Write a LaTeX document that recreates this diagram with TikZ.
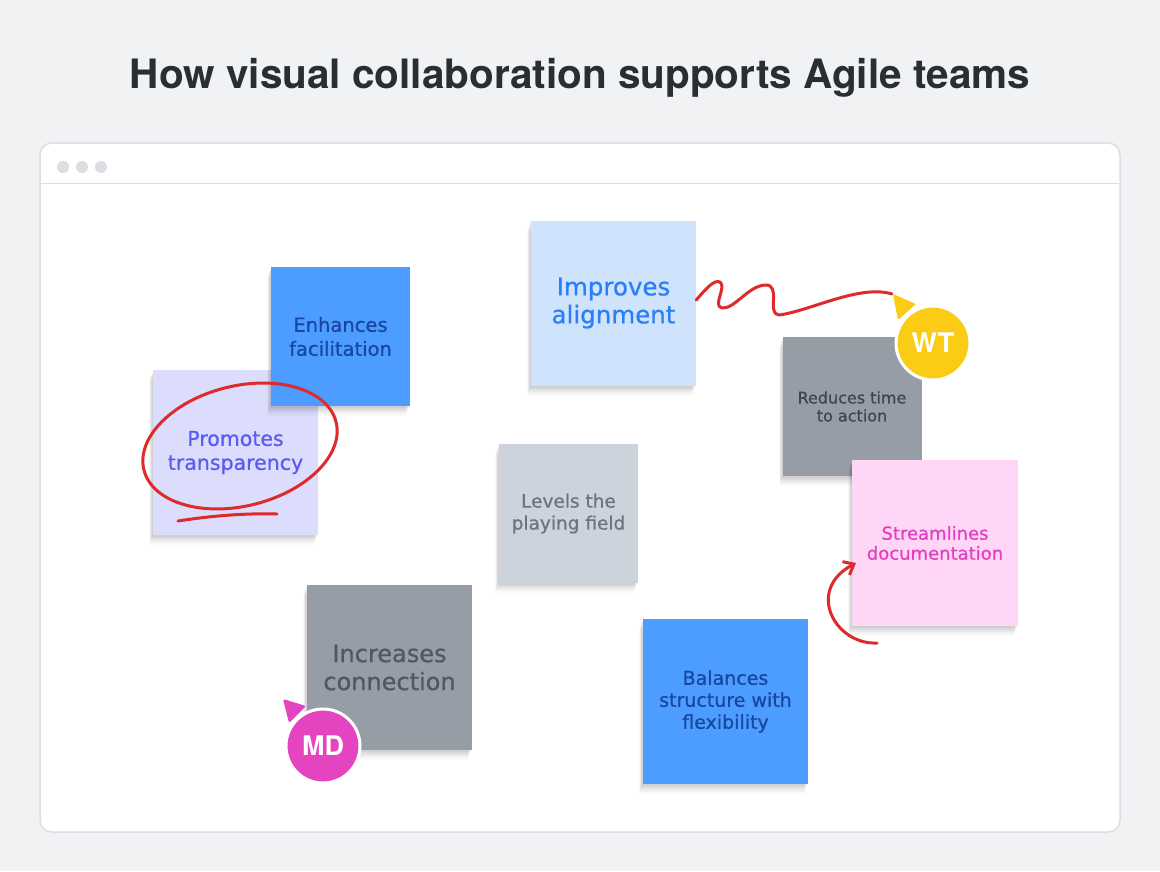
\documentclass[tikz,border=0pt]{standalone}
\usepackage{fontspec}
\setmainfont{DejaVu Sans}[RawFeature={embolden=0.7}]
\newfontfamily\titlefont{TeX Gyre Heros}[Ligatures=NoCommon]
\usetikzlibrary{arrows.meta}
\definecolor{bg}{HTML}{F1F2F4}
\definecolor{frame}{HTML}{DCDEE2}
\definecolor{dotc}{HTML}{DCDEE3}
\definecolor{titlec}{HTML}{2A2D33}
\definecolor{bluenote}{HTML}{4D9CFF}
\definecolor{bluetext}{HTML}{1747A0}
\definecolor{lavnote}{HTML}{DCDCFD}
\definecolor{lavtext}{HTML}{5B5BF2}
\definecolor{lbnote}{HTML}{CFE3FD}
\definecolor{lbtext}{HTML}{2B7FF5}
\definecolor{graynote}{HTML}{979DA6}
\definecolor{graytext}{HTML}{40454D}
\definecolor{lgnote}{HTML}{CCD3DC}
\definecolor{lgtext}{HTML}{6E747D}
\definecolor{pinknote}{HTML}{FFD6F5}
\definecolor{pinktext}{HTML}{E23FC0}
\definecolor{redpen}{HTML}{DE2A2A}
\definecolor{wtc}{HTML}{FACC15}
\definecolor{mdc}{HTML}{E444C0}
\tikzset{
  note/.style={rectangle, inner sep=0pt, align=center,
    preaction={fill=black, opacity=0.05, transform canvas={xshift=-1pt, yshift=-2pt}},
    preaction={fill=black, opacity=0.05, transform canvas={xshift=-2pt, yshift=-4pt}},
    preaction={fill=black, opacity=0.04, transform canvas={xshift=-3pt, yshift=-6pt}},
    preaction={fill=black, opacity=0.03, transform canvas={xshift=-3pt, yshift=-8pt}},
    preaction={fill=black, opacity=0.02, transform canvas={xshift=-4pt, yshift=-10pt}}},
  pen/.style={draw=redpen, line width=3pt, line cap=round, line join=round},
  avatar/.style={circle, minimum size=74pt, inner sep=0pt, draw=white, line width=3pt, text=white,
    font=\titlefont\fontsize{27}{27}\selectfont\bfseries},
}
\begin{document}
\begin{tikzpicture}[x=1pt,y=-1pt]
\fill[bg] (0,0) rectangle (1160,871);
\useasboundingbox (0,0) rectangle (1160,871);
% title
\node[text=titlec, font=\titlefont\fontsize{40.5}{42}\selectfont\bfseries, anchor=base] (title) at (580,88) {How visual collaboration supports Agile teams};
% window
\draw[frame, fill=white, line width=1.5pt, rounded corners=12pt] (40,143) rectangle (1120,832);
\draw[frame, line width=1pt] (41,183) -- (1119,183);
\foreach \i/\xx in {d1/63,d2/82,d3/101} \fill[dotc] (\xx,167) circle (6);
% notes
\node[note, fill=lavnote, minimum width=165pt, minimum height=165pt, text=lavtext, font=\fontsize{20.5}{24}\selectfont] (promotes) at (235.5,452.5) {Promotes\\transparency};
\node[note, fill=bluenote, minimum width=139pt, minimum height=139pt, text=bluetext, font=\fontsize{19.5}{24}\selectfont] (enhances) at (340.5,336.5) {Enhances\\facilitation};
\node[note, fill=lbnote, minimum width=165pt, minimum height=165pt, text=lbtext, font=\fontsize{24.5}{28}\selectfont] (improves) at (613.5,303) {Improves\\alignment};
\node[note, fill=graynote, minimum width=139pt, minimum height=139pt, text=graytext, font=\fontsize{16}{18}\selectfont] (reduces) at (852,406.5) {Reduces time\\to action};
\node[note, fill=lgnote, minimum width=139pt, minimum height=139pt, text=lgtext, font=\fontsize{18.5}{22}\selectfont] (levels) at (568.5,513.5) {Levels the\\playing field};
\node[note, fill=pinknote, minimum width=166pt, minimum height=166pt, text=pinktext, font=\fontsize{18}{20}\selectfont] (streamlines) at (935,543) {Streamlines\\documentation};
\node[note, fill=graynote, minimum width=165pt, minimum height=165pt, text=graytext!90!white, font=\fontsize{24}{28}\selectfont] (increases) at (389.5,667.5) {Increases\\connection};
\node[note, fill=bluenote, minimum width=165pt, minimum height=165pt, text=bluetext, font=\fontsize{19}{22}\selectfont] (balances) at (725.5,701.5) {Balances\\structure with\\flexibility};
% red ellipse around Promotes
\draw[pen, rotate around={14:(240,446)}] (240,446) ellipse [x radius=99pt, y radius=60pt];
\draw[pen] (178,521) .. controls (210,516) and (245,513) .. (277,514);
% WT avatar and cursor
\node[avatar, fill=wtc] (wt) at (933,343) {WT};
\coordinate (wttip) at (892,294);
\fill[wtc, rounded corners=2pt] (893,294) -- (916,304) -- (898,320) -- cycle;
% squiggle
\draw[pen] (improves.east |- 0,300) .. controls (705,290) and (714,279) .. (720,282)
  .. controls (727,287) and (712,306) .. (722,308)
  .. controls (735,309) and (748,286) .. (765,285)
  .. controls (782,284) and (766,314) .. (779,315)
  .. controls (810,311) and (860,284) .. (wttip);
% MD avatar and cursor
\node[avatar, fill=mdc] (md) at (323,746) {MD};
\fill[mdc, rounded corners=2pt] (283,699) -- (306,706) -- (289,723) -- cycle;
% red arrow to Streamlines
\coordinate (arrstart) at (877,643);
\draw[pen, -{Straight Barb[length=9pt,width=15pt,line width=3pt]}] (arrstart) .. controls (835,645) and (805,590) .. (856,563);
\end{tikzpicture}
\end{document}
